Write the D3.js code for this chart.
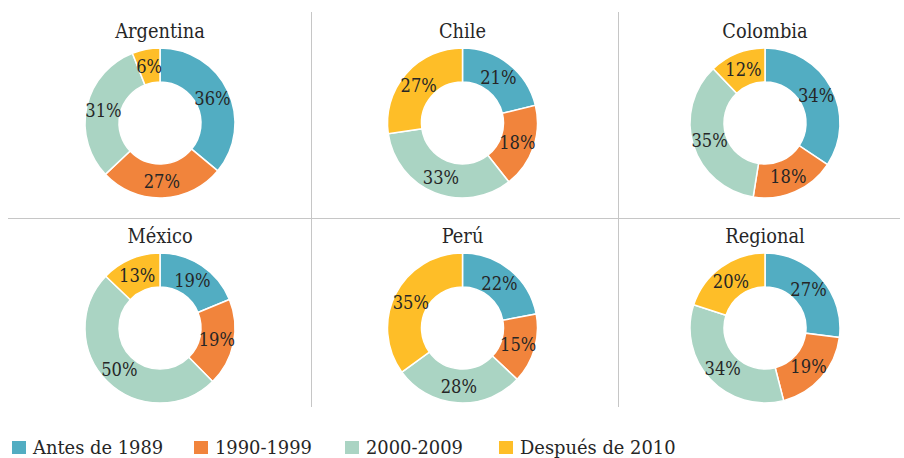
<!DOCTYPE html>
<html>
<head>
<meta charset="utf-8">
<script src="https://cdn.jsdelivr.net/npm/d3@7"></script>
<style>
  body { margin: 0; background: #fff; }
</style>
</head>
<body>
<div id="chart-area"></div>
<script>
// --- Data ---
var categories = ["Antes de 1989", "1990-1999", "2000-2009", "Después de 2010"];
var countries = ["Argentina", "Chile", "Colombia", "México", "Perú", "Regional"];
var argentina = [36, 27, 31, 6];
var chile = [21, 18, 33, 27];
var colombia = [34, 18, 35, 12];
var mexico = [19, 19, 50, 13];
var peru = [22, 15, 28, 35];
var regional = [27, 19, 34, 20];
var series = [argentina, chile, colombia, mexico, peru, regional];

var colors = ["#52adc2", "#f1843c", "#aad4c3", "#febe28"];
var FONT = "DejaVu Serif";

// squeeze the wide serif a bit so it looks closer to the original face
function squeeze(sel, k) {
    sel.each(function() {
        var w = this.getComputedTextLength();
        d3.select(this).attr("textLength", w * k).attr("lengthAdjust", "spacingAndGlyphs");
    });
}

// --- Setup the canvas ---
var width = 904, height = 458;
var svg = d3.select("#chart-area").append("svg")
    .attr("width", width)
    .attr("height", height);

// grid positions
var colX = d3.scalePoint().domain([0, 1, 2]).range([160, 765]);
var rowY = d3.scalePoint().domain([0, 1]).range([123, 328]);
var color = d3.scaleOrdinal().domain(categories).range(colors);

var outerR = 75, innerR = 41;

// --- Separator lines ---
var grid = svg.append("g").attr("stroke", "#c6c6c6").attr("stroke-width", 1);
grid.append("line").attr("x1", 8).attr("x2", 900).attr("y1", 218.5).attr("y2", 218.5);
[311.5, 618.5].forEach(function(x) {
    grid.append("line").attr("x1", x).attr("x2", x).attr("y1", 12).attr("y2", 407);
});

var pie = d3.pie().sort(null).value(function(d) { return d.value; });
var arc = d3.arc().innerRadius(innerR).outerRadius(outerR);
var labelArc = d3.arc().innerRadius(58).outerRadius(58);

series.forEach(function(vals, i) {
    var cx = colX(i % 3), cy = rowY(Math.floor(i / 3));
    var data = vals.map(function(v, j) { return {cat: categories[j], value: v}; });

    var g = svg.append("g").attr("transform", "translate(" + cx + "," + cy + ")");

    g.append("text")
        .attr("x", 0)
        .attr("y", -85)
        .attr("text-anchor", "middle")
        .attr("font-family", FONT)
        .attr("font-size", "20px")
        .attr("fill", "#262626")
        .text(countries[i])
        .call(squeeze, 0.89);

    var slices = pie(data);
    g.selectAll("path").data(slices).enter()
        .append("path")
        .attr("d", arc)
        .attr("fill", function(d) { return color(d.data.cat); })
        .attr("stroke", "#fff")
        .attr("stroke-width", 1.5);

    g.selectAll("text.lbl").data(slices).enter()
        .append("text")
        .attr("class", "lbl")
        .attr("transform", function(d) { return "translate(" + labelArc.centroid(d) + ")"; })
        .attr("dy", "0.36em")
        .attr("text-anchor", "middle")
        .attr("font-family", FONT)
        .attr("font-size", "19px")
        .attr("fill", "#262626")
        .text(function(d) { return d.data.value + "%"; })
        .call(squeeze, 0.86);
});

// --- Legend ---
var legendX = [12, 194, 345, 499];
var legend = svg.append("g");
categories.forEach(function(c, i) {
    legend.append("rect")
        .attr("x", legendX[i]).attr("y", 441)
        .attr("width", 14).attr("height", 13)
        .attr("fill", color(c));
    legend.append("text")
        .attr("x", legendX[i] + 21).attr("y", 454)
        .attr("font-family", FONT)
        .attr("font-size", "19px")
        .attr("fill", "#262626")
        .text(c)
        .call(squeeze, 0.94);
});
</script>
</body>
</html>
